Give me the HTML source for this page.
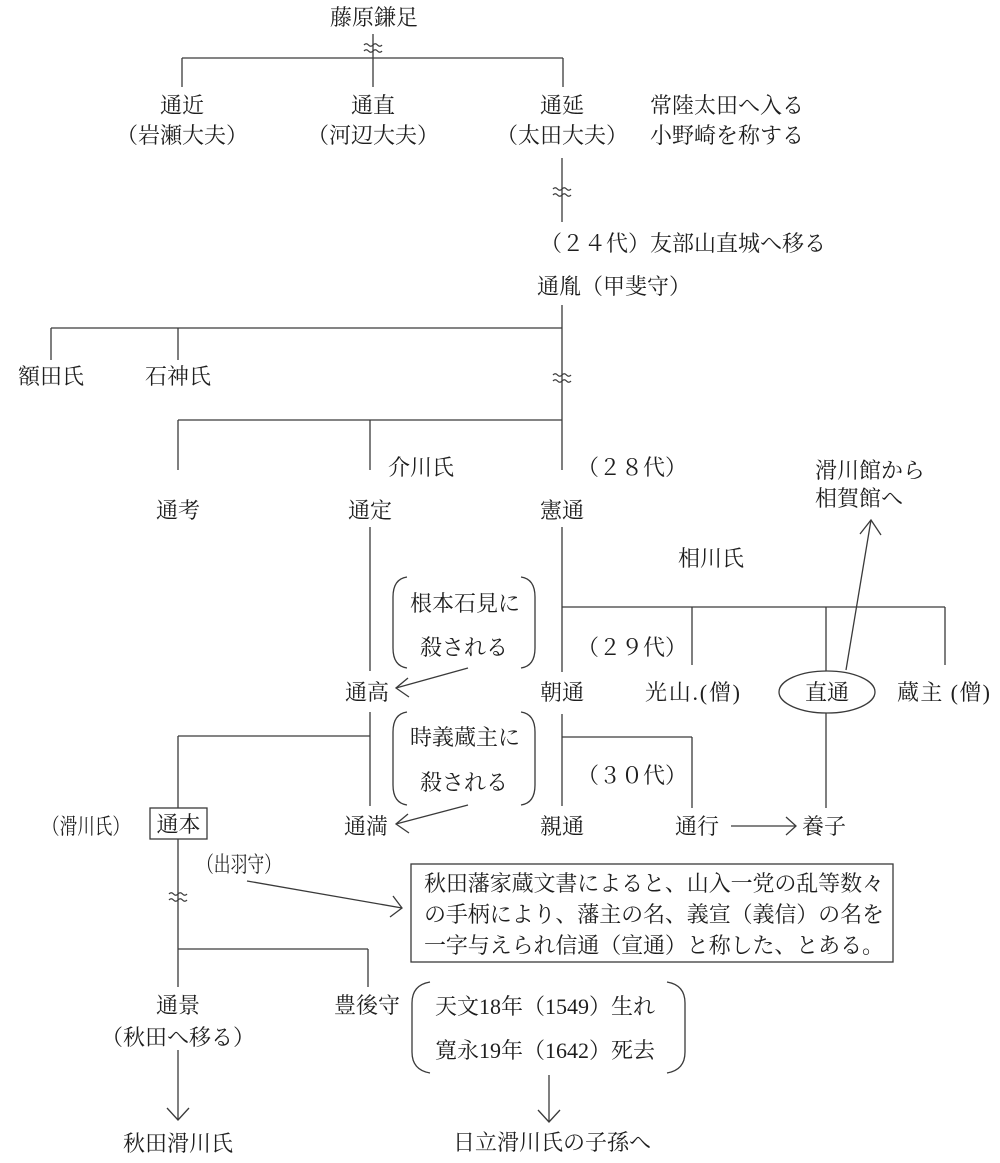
<!DOCTYPE html>
<html>
<head>
<meta charset="utf-8">
<style>
html,body{margin:0;padding:0;background:#fff;}
svg{display:block;}
text{font-family:"Liberation Serif","Noto Serif CJK SC","Noto Serif CJK JP",serif;font-size:22px;fill:#1e1e1e;}
</style>
</head>
<body>
<svg width="1000" height="1163" viewBox="0 0 1000 1163" xmlns="http://www.w3.org/2000/svg">
<rect width="1000" height="1163" fill="#fff"/>
<g stroke="#3a3a3a" stroke-width="1.3" fill="none">
  <!-- top -->
  <line x1="373" y1="34" x2="373" y2="87"/>
  <line x1="182" y1="58" x2="563" y2="58"/>
  <line x1="182" y1="58" x2="182" y2="87"/>
  <line x1="563" y1="58" x2="563" y2="87"/>
  <path d="M364 45 q2.25 -2.5 4.5 0 t4.5 0 t4.5 0 t4.5 0"/>
  <path d="M364 51 q2.25 -2.5 4.5 0 t4.5 0 t4.5 0 t4.5 0"/>
  <!-- 通延 down -->
  <line x1="562" y1="158" x2="562" y2="222"/>
  <path d="M553 189 q2.25 -2.5 4.5 0 t4.5 0 t4.5 0 t4.5 0"/>
  <path d="M553 195 q2.25 -2.5 4.5 0 t4.5 0 t4.5 0 t4.5 0"/>
  <!-- 通胤 down -->
  <line x1="562" y1="305" x2="562" y2="470"/>
  <line x1="51" y1="328" x2="562" y2="328"/>
  <line x1="51" y1="328" x2="51" y2="360"/>
  <line x1="178" y1="328" x2="178" y2="360"/>
  <path d="M553 375 q2.25 -2.5 4.5 0 t4.5 0 t4.5 0 t4.5 0"/>
  <path d="M553 381 q2.25 -2.5 4.5 0 t4.5 0 t4.5 0 t4.5 0"/>
  <line x1="178" y1="420" x2="562" y2="420"/>
  <line x1="178" y1="420" x2="178" y2="470"/>
  <line x1="370" y1="420" x2="370" y2="470"/>
  <!-- middle -->
  <line x1="370" y1="527" x2="370" y2="671"/>
  <line x1="562" y1="527" x2="562" y2="672"/>
  <line x1="562" y1="607" x2="945" y2="607"/>
  <line x1="692" y1="607" x2="692" y2="665"/>
  <line x1="826" y1="607" x2="826" y2="671"/>
  <line x1="945" y1="607" x2="945" y2="665"/>
  <!-- arrow up from 直通 -->
  <line x1="846" y1="670" x2="871" y2="520"/>
  <polyline points="860,534 871,520 881,535"/>
  <ellipse cx="827" cy="692" rx="48" ry="21"/>
  <!-- bracket 1 -->
  <path d="M407 577 Q393 579 393 597 L393 648 Q393 666 407 668"/>
  <path d="M521 577 Q535 579 535 597 L535 648 Q535 666 521 668"/>
  <line x1="468" y1="668" x2="396" y2="688"/>
  <polyline points="408,678 396,688 409,697"/>
  <!-- bracket 2 -->
  <path d="M407 712 Q393 714 393 732 L393 785 Q393 803 407 805"/>
  <path d="M521 712 Q535 714 535 732 L535 785 Q535 803 521 805"/>
  <line x1="468" y1="805" x2="396" y2="824"/>
  <polyline points="408,814 396,824 409,833"/>
  <!-- lower verticals -->
  <line x1="370" y1="712" x2="370" y2="806"/>
  <line x1="178" y1="736" x2="370" y2="736"/>
  <line x1="178" y1="736" x2="178" y2="808"/>
  <line x1="562" y1="714" x2="562" y2="806"/>
  <line x1="562" y1="737" x2="692" y2="737"/>
  <line x1="692" y1="737" x2="692" y2="808"/>
  <line x1="826" y1="713" x2="826" y2="808"/>
  <!-- 通行 -> 養子 -->
  <line x1="731" y1="826" x2="796" y2="826"/>
  <polyline points="786,817 796,826 786,835"/>
  <!-- 通本 box -->
  <rect x="150" y="808" width="57" height="31"/>
  <line x1="178" y1="839" x2="178" y2="987"/>
  <path d="M169 894 q2.25 -2.5 4.5 0 t4.5 0 t4.5 0 t4.5 0"/>
  <path d="M169 900 q2.25 -2.5 4.5 0 t4.5 0 t4.5 0 t4.5 0"/>
  <line x1="178" y1="949" x2="368" y2="949"/>
  <line x1="368" y1="949" x2="368" y2="987"/>
  <!-- 出羽守 arrow -->
  <line x1="247" y1="881" x2="402" y2="908"/>
  <polyline points="393,896 402,908 390,917"/>
  <!-- note box -->
  <rect x="411" y="864" width="482" height="98"/>
  <!-- bottom arrows -->
  <line x1="178" y1="1050" x2="178" y2="1120"/>
  <polyline points="167,1108 178,1120 189,1108"/>
  <path d="M430 982 Q412 985 412 1003 L412 1052 Q412 1070 430 1073"/>
  <path d="M667 982 Q685 985 685 1003 L685 1052 Q685 1070 667 1073"/>
  <line x1="549" y1="1075" x2="549" y2="1122"/>
  <polyline points="538,1110 549,1122 560,1110"/>
</g>
<g>
  <text x="374" y="25" text-anchor="middle">藤原鎌足</text>
  <text x="182" y="113" text-anchor="middle">通近</text>
  <text x="182" y="143" text-anchor="middle">（岩瀬大夫）</text>
  <text x="373" y="113" text-anchor="middle">通直</text>
  <text x="373" y="143" text-anchor="middle">（河辺大夫）</text>
  <text x="562" y="113" text-anchor="middle">通延</text>
  <text x="562" y="143" text-anchor="middle">（太田大夫）</text>
  <text x="650" y="113">常陸太田へ入る</text>
  <text x="650" y="143">小野崎を称する</text>
  <text x="540" y="251">（２４代）友部山直城へ移る</text>
  <text x="537" y="294">通胤（甲斐守）</text>
  <text x="51" y="384" text-anchor="middle">額田氏</text>
  <text x="178" y="384" text-anchor="middle">石神氏</text>
  <text x="388" y="475">介川氏</text>
  <text x="577" y="475">（２８代）</text>
  <text x="178" y="518" text-anchor="middle">通考</text>
  <text x="370" y="518" text-anchor="middle">通定</text>
  <text x="562" y="518" text-anchor="middle">憲通</text>
  <text x="815" y="478">滑川館から</text>
  <text x="815" y="506">相賀館へ</text>
  <text x="711" y="566" text-anchor="middle">相川氏</text>
  <text x="410" y="611">根本石見に</text>
  <text x="420" y="655">殺される</text>
  <text x="577" y="655">（２９代）</text>
  <text x="367" y="700" text-anchor="middle">通高</text>
  <text x="562" y="700" text-anchor="middle">朝通</text>
  <text x="645" y="700" textLength="95" lengthAdjust="spacing">光山.(僧)</text>
  <text x="827" y="700" text-anchor="middle">直通</text>
  <text x="897" y="700" textLength="93" lengthAdjust="spacing">蔵主 (僧)</text>
  <text x="410" y="745">時義蔵主に</text>
  <text x="420" y="790">殺される</text>
  <text x="577" y="783">（３０代）</text>
  <text x="42" y="834" textLength="88" lengthAdjust="spacingAndGlyphs">（滑川氏）</text>
  <text x="178.5" y="832" text-anchor="middle">通本</text>
  <text x="366" y="834" text-anchor="middle">通満</text>
  <text x="562" y="834" text-anchor="middle">親通</text>
  <text x="697" y="834" text-anchor="middle">通行</text>
  <text x="824" y="834" text-anchor="middle">養子</text>
  <text x="197" y="872" textLength="84" lengthAdjust="spacingAndGlyphs">（出羽守）</text>
  <text x="424" y="891" textLength="460" lengthAdjust="spacing">秋田藩家蔵文書によると、山入一党の乱等数々</text>
  <text x="424" y="922" textLength="460" lengthAdjust="spacing">の手柄により、藩主の名、義宣（義信）の名を</text>
  <text x="424" y="953" textLength="460" lengthAdjust="spacing">一字与えられ信通（宣通）と称した、とある。</text>
  <text x="178" y="1013" text-anchor="middle">通景</text>
  <text x="178" y="1045" text-anchor="middle">（秋田へ移る）</text>
  <text x="334" y="1013">豊後守</text>
  <text x="435" y="1014">天文18年（1549）生れ</text>
  <text x="435" y="1058">寛永19年（1642）死去</text>
  <text x="178" y="1151" text-anchor="middle">秋田滑川氏</text>
  <text x="453" y="1150">日立滑川氏の子孫へ</text>
</g>
</svg>
</body>
</html>
